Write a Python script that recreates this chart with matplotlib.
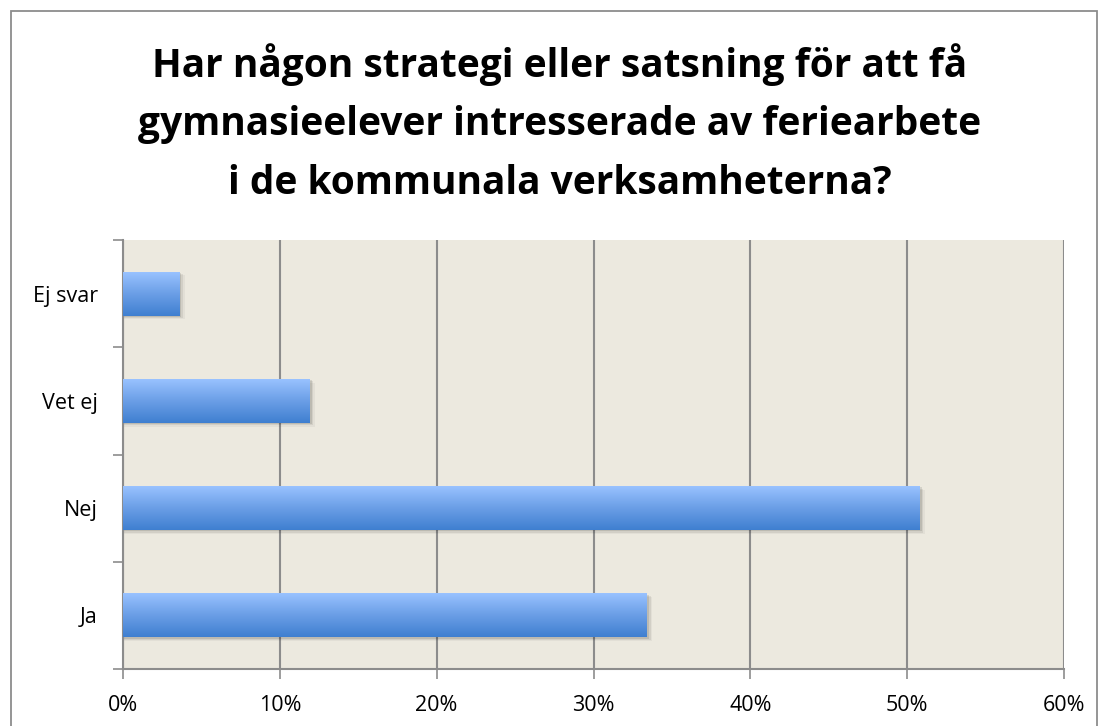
import numpy as np
import matplotlib
matplotlib.use("Agg")
import matplotlib.pyplot as plt
from matplotlib.colors import LinearSegmentedColormap
from matplotlib.patches import Rectangle
from matplotlib.ticker import FixedLocator, NullFormatter

categories = ["Ja", "Nej", "Vet ej", "Ej svar"]
values = [33.4, 50.8, 11.9, 3.6]
xticks = [0, 10, 20, 30, 40, 50, 60]
xticklabels = ["0%", "10%", "20%", "30%", "40%", "50%", "60%"]
title_lines = ["Har någon strategi eller satsning för att få",
               "gymnasieelever intresserade av feriearbete",
               "i de kommunala verksamheterna?"]

W, H = 1109, 726
fig = plt.figure(figsize=(W / 100, H / 100), dpi=100)
fig.patch.set_facecolor("white")

# outer frame
fig.add_artist(Rectangle((11 / W, -0.05), (1097 - 11) / W, 1.05 - 11 / H,
                         transform=fig.transFigure, fill=False,
                         edgecolor="#8c8c8c", lw=1.3))

ax = fig.add_axes([123 / W, 1 - 669 / H, (1064 - 123) / W, (669 - 240) / H])
ax.set_facecolor("#ece9df")

ax.set_xticks(xticks)
ax.set_xticklabels(xticklabels, fontsize=15.5, family="Open Sans")
ax.set_yticks(range(len(categories)))
ax.set_yticklabels(categories, fontsize=15.5, family="Open Sans")
ax.tick_params(axis="y", which="major", length=0, pad=18)
ax.yaxis.set_minor_locator(FixedLocator(np.arange(-0.5, len(categories), 1.0)))
ax.yaxis.set_minor_formatter(NullFormatter())
ax.tick_params(axis="y", which="minor", length=7, width=1.2, color="#8c8c8c", direction="out")
ax.tick_params(axis="x", length=7, width=1.2, color="#8c8c8c", direction="out", pad=12)

ax.grid(axis="x", color="#8c8c8c", lw=1.5, zorder=0)
ax.set_axisbelow(True)
for s in ["top", "right"]:
    ax.spines[s].set_visible(False)
for s in ["left", "bottom"]:
    ax.spines[s].set_color("#8c8c8c")
    ax.spines[s].set_linewidth(1.5)

cmap = LinearSegmentedColormap.from_list("bar", ["#3f7fd0", "#6a9ee6", "#99c2ff"])
grad = np.linspace(0, 1, 256).reshape(-1, 1)
h = 0.41
for i, v in enumerate(values):
    # soft shadow
    for k, a in enumerate([0.10, 0.07, 0.04]):
        off = 0.012 * (k + 1)
        ax.add_patch(Rectangle((0, i - h / 2 - off), v + 0.12 * (k + 1), h,
                               facecolor="black", alpha=a, lw=0, zorder=2))
    ax.imshow(grad, extent=[0, v, i - h / 2, i + h / 2], origin="lower",
              cmap=cmap, aspect="auto", zorder=3, interpolation="bilinear")
ax.set_xlim(0, 60)
ax.set_ylim(-0.5, len(categories) - 0.5)

for j, line in enumerate(title_lines):
    fig.text(560 / W, 1 - (77 + 58.5 * j) / H, line, ha="center", va="baseline",
             fontsize=28, fontweight="bold", family="Open Sans")

fig.savefig("out.png", dpi=100)
